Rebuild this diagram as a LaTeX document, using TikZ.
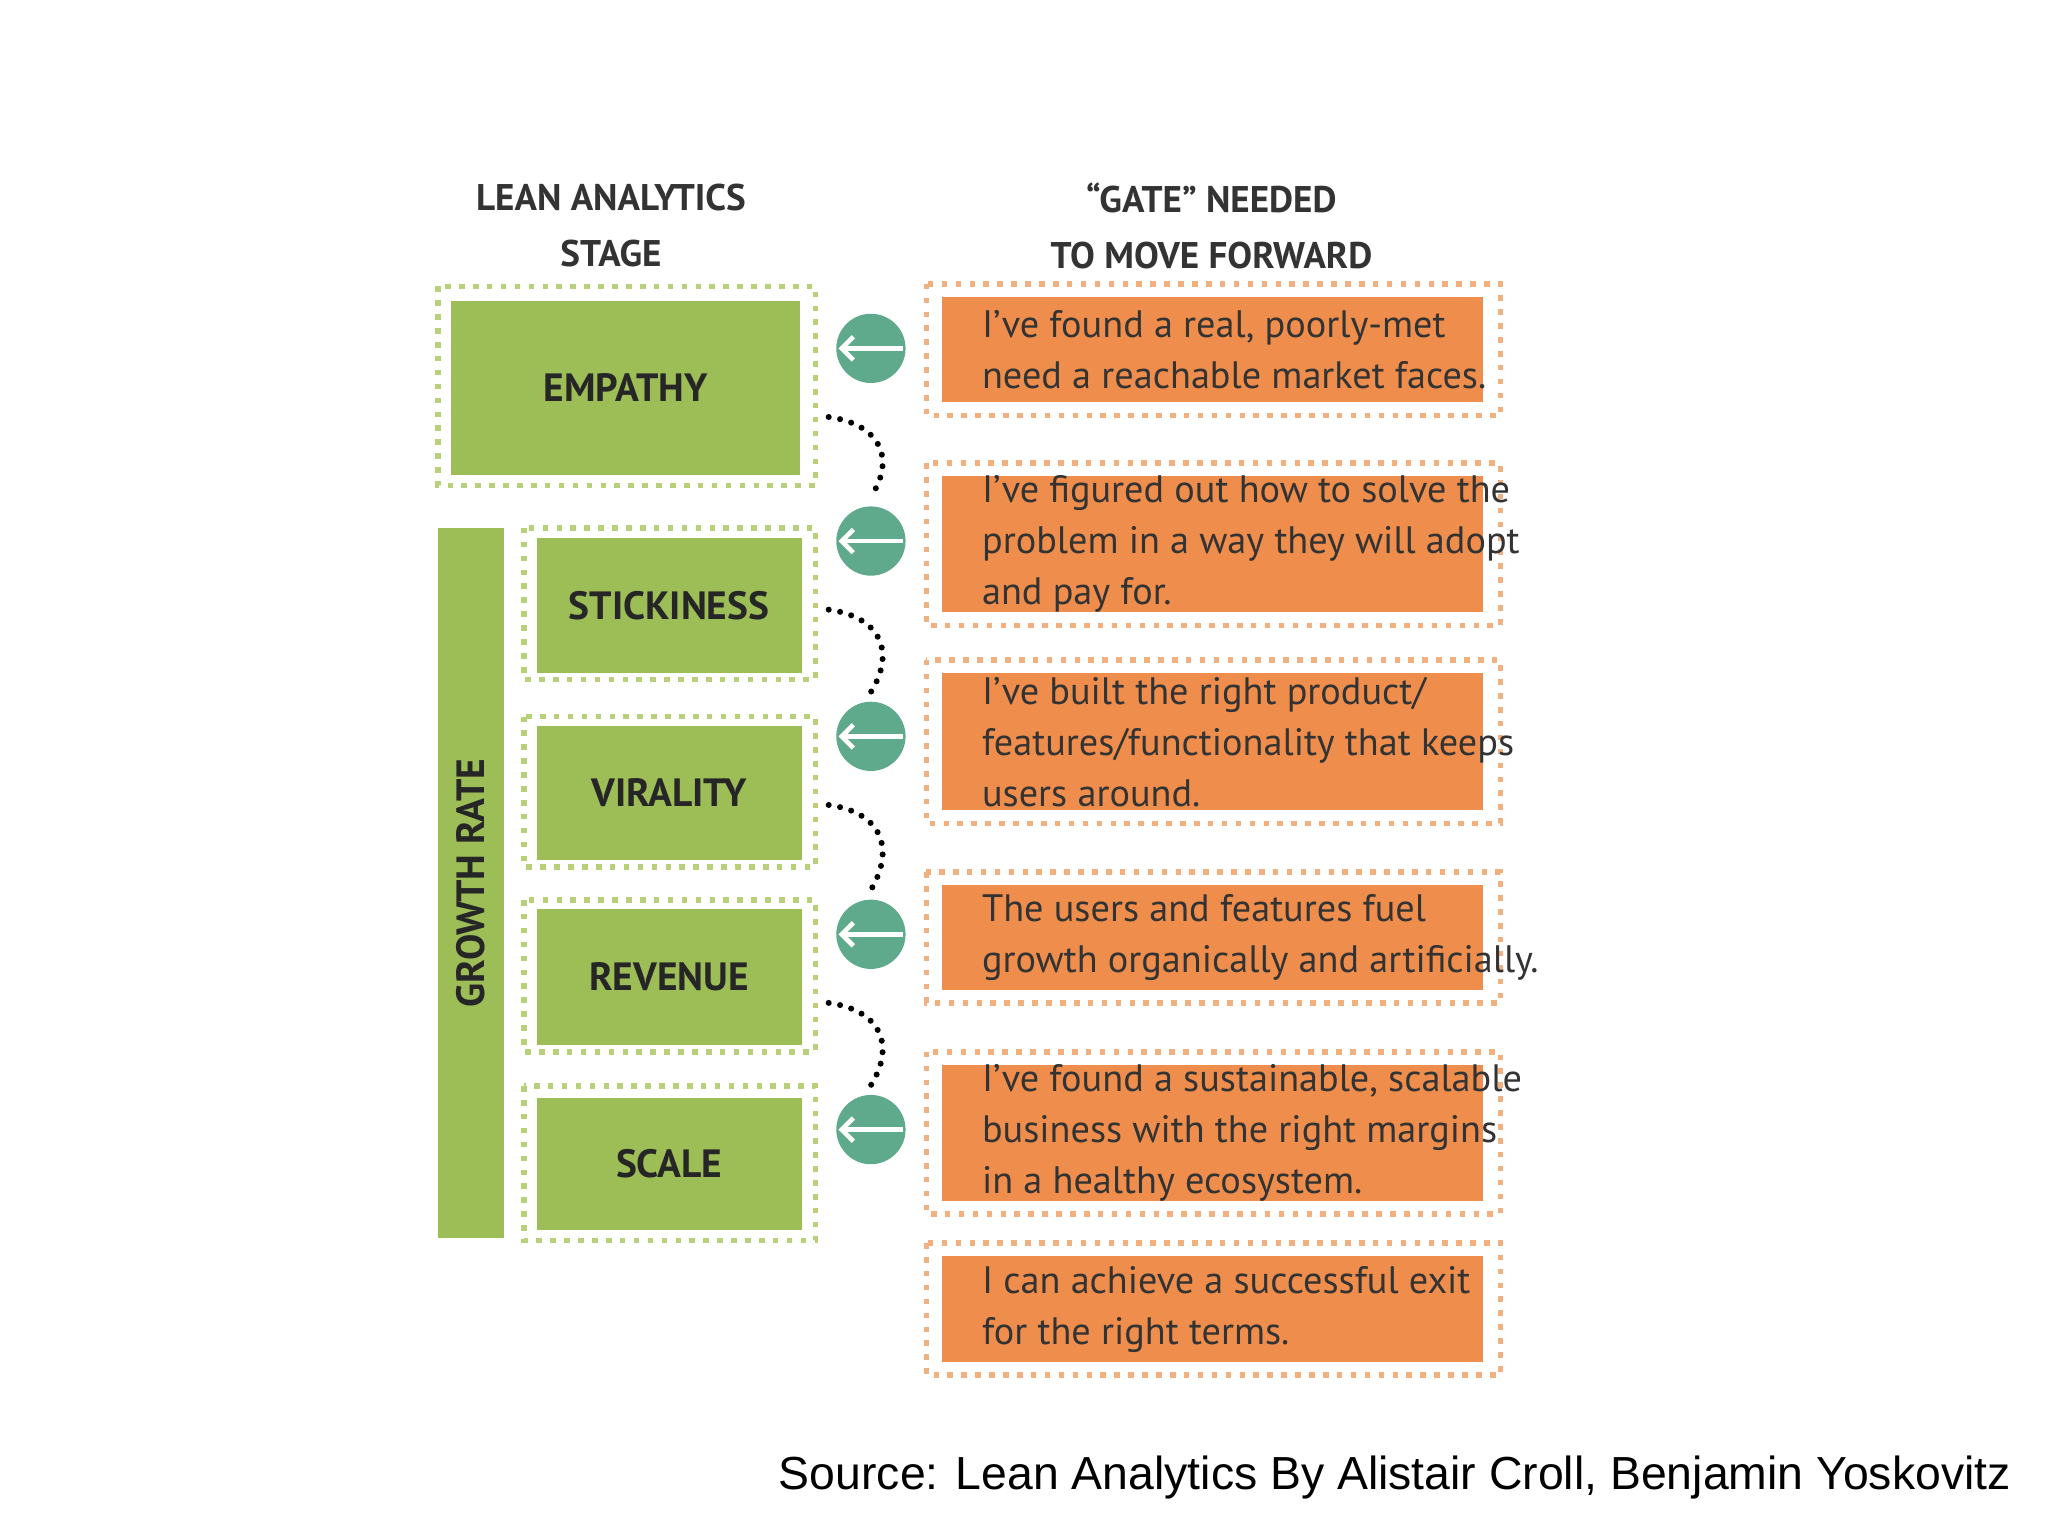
\documentclass[tikz,border=0pt]{standalone}
\usepackage{fontspec}
\setmainfont{PT Sans}
\newfontfamily\arial{Liberation Sans}
\usetikzlibrary{arrows.meta}
\definecolor{gfill}{HTML}{9DBD57}
\definecolor{gdot}{HTML}{B9D07A}
\definecolor{ofill}{HTML}{EF8E4C}
\definecolor{odot}{HTML}{F2B07F}
\definecolor{teal}{HTML}{5FA98C}
\begin{document}
\begin{tikzpicture}[x=0.02cm,y=-0.02cm,
 gouter/.style={draw=gdot,line width=2.4pt,dash pattern=on 2.4pt off 3.6pt},
 ginner/.style={fill=gfill},
 oouter/.style={draw=odot,line width=2.4pt,dash pattern=on 2.4pt off 3.6pt},
 oinner/.style={fill=ofill},
 lbl/.style={font=\fontsize{17}{20}\selectfont\bfseries,text=black!85},
 gtext/.style={font=\fontsize{16.5}{22}\selectfont,text=black!80,align=left,anchor=west},
 hdr/.style={font=\fontsize{16}{24}\selectfont\bfseries,align=center,text=black!80},
 arr/.style={circle,fill=teal,minimum size=1.05cm,inner sep=0pt},
 conn/.style={line width=2.6pt,dash pattern=on 0pt off 5pt,line cap=round}]
\useasboundingbox (0,0) rectangle (1552,1164);
\node[hdr] (h1) at (463,171) {LEAN ANALYTICS\\STAGE};
\node[hdr] (h2) at (918,171) {“GATE” NEEDED\\TO MOVE FORWARD};
% stages
\draw[gouter] (332,217) rectangle (618,368);
\fill[ginner] (342,228) rectangle (606,360);
\node[lbl] (s1) at (474,294) {EMPATHY};
\fill[gfill] (332,400) rectangle (382,938);
\node[lbl,rotate=90] (gr) at (357,669) {GROWTH RATE};
\foreach \t/\b/\it/\ib/\name/\n in {400/515/408/510/STICKINESS/s2,543/657/550/652/VIRALITY/s3,682/797/689/792/REVENUE/s4,823/940/832/932/SCALE/s5}{
 \draw[gouter] (397,\t) rectangle (618,\b);
 \fill[ginner] (407,\it) rectangle (608,\ib);
 \node[lbl] (\n) at (507,{(\it+\ib)/2}) {\name};
}
% gates
\foreach \t/\b/\n in {215/315/g1,351/474/g2,500/624/g3,661/760/g4,797/920/g5,942/1042/g6}{
 \draw[oouter] (702,\t) rectangle (1137,\b);
 \fill[oinner] (714,\t+10) rectangle (1124,\b-10);
 \coordinate (\n) at (738,{(\t+\b)/2});
}
\node[gtext] at (g1) {I’ve found a real, poorly-met\\need a reachable market faces.};
\node[gtext] at (g2) {I’ve figured out how to solve the\\problem in a way they will adopt\\and pay for.};
\node[gtext] at (g3) {I’ve built the right product/\\features/functionality that keeps\\users around.};
\node[gtext] at (g4) {The users and features fuel\\growth organically and artificially.};
\node[gtext] at (g5) {I’ve found a sustainable, scalable\\business with the right margins\\in a healthy ecosystem.};
\node[gtext] at (g6) {I can achieve a successful exit\\for the right terms.};
% arrows
\foreach \y/\n in {264/a1,410/a2,558/a3,708/a4,856/a5}{
 \node[arr,drop shadow/.style={}] (\n) at (660,\y) {};
 \draw[white,line width=2pt,-{Straight Barb[length=5pt,width=10pt]}] ([xshift=14pt]\n.center) -- ([xshift=-14pt]\n.center);
}
% dotted connectors
\foreach \y/\n in {316/a2,462/a3,610/a4,760/a5}{
 \coordinate (c\n) at (628,\y);
 \draw[conn] (c\n) .. controls (665,\y+5) and (680,\y+30) .. ([yshift=4pt]\n.north);
}
\node[font=\arial\fontsize{20}{24}\selectfont,anchor=east] (src) at (1530,1120) {Source: Lean Analytics By Alistair Croll, Benjamin Yoskovitz};
\end{tikzpicture}
\end{document}
